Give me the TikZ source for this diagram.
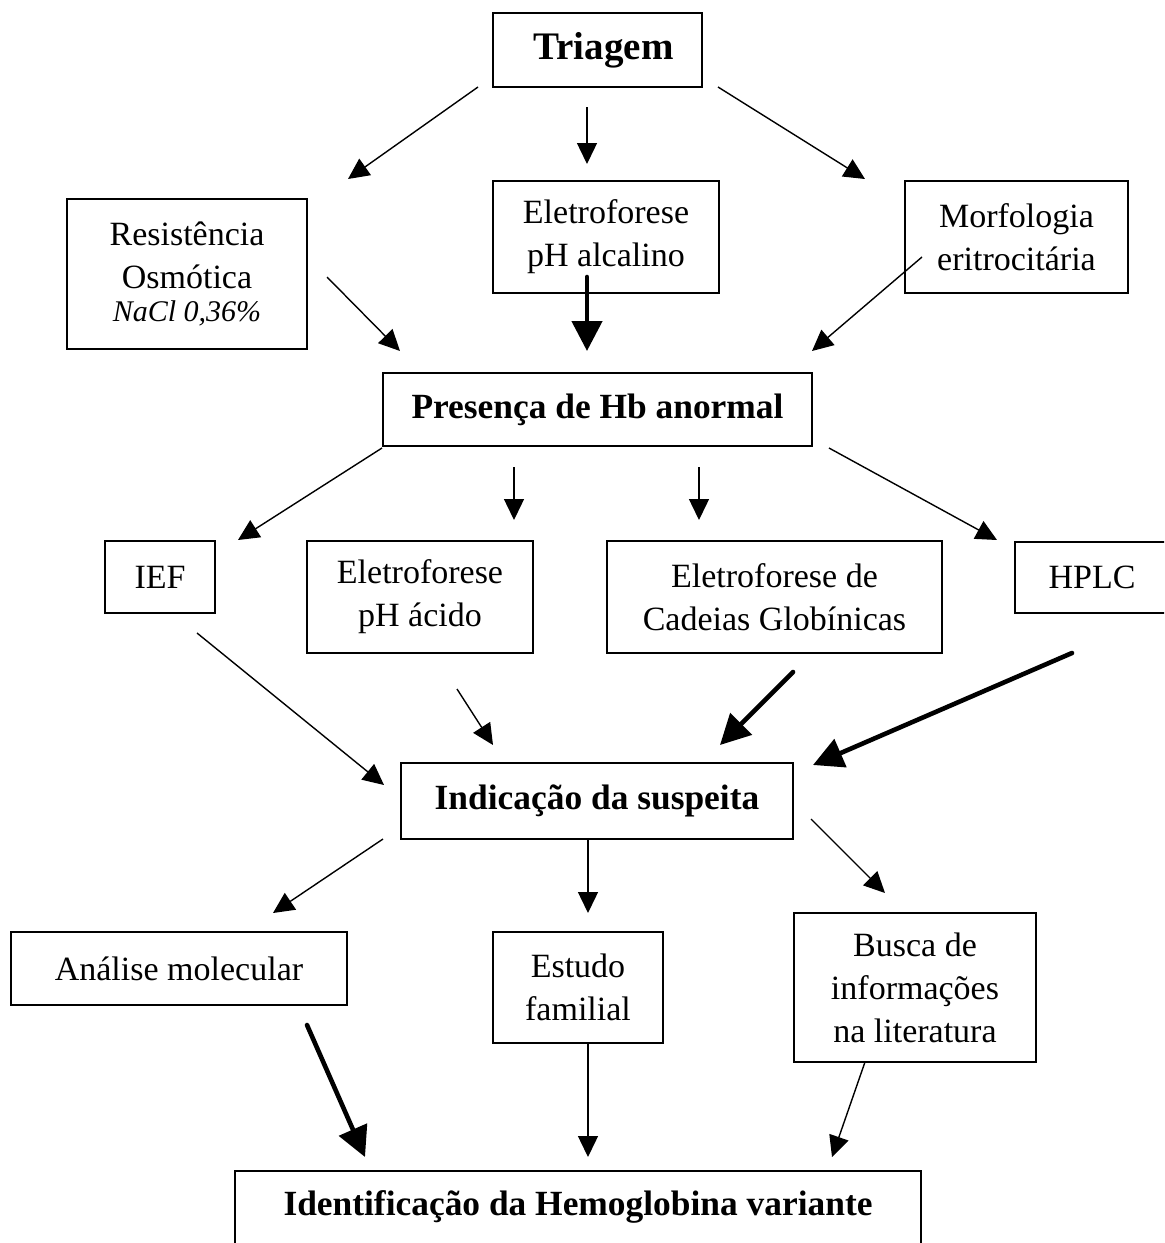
\documentclass[tikz,border=0pt]{standalone}
\usepackage{fontspec}
\setmainfont{Liberation Serif}
\usetikzlibrary{arrows.meta}
\begin{document}
\begin{tikzpicture}[x=0.5pt,y=-0.5pt,
  box/.style={draw, line width=1pt, rectangle, align=center, inner sep=0pt, font=\fontsize{17}{21.5}\selectfont},
  bbox/.style={box, font=\fontsize{17.7}{21.5}\selectfont\bfseries},
  arr/.style={line width=0.7pt, -{Triangle[length=10.5pt,width=10pt]}},
  arrthick/.style={line width=2.3pt, line cap=round, -{Triangle[length=15pt,width=15pt]}}]
\useasboundingbox (0,0) rectangle (1164,1243);
\clip (0,0) rectangle (1164,1243);
\fill[white] (0,0) rectangle (1164,1243);

% boxes
\node[bbox, font=\fontsize{19.5}{23}\selectfont\bfseries, minimum width=104.5pt, minimum height=37pt] (tri) at (597.5,50) {\hspace*{6pt}Triagem};
\node[box, minimum width=120pt, minimum height=75pt] (res) at (187,274) {Resistência\\Osmótica\\[-5pt]{\fontsize{15}{18}\selectfont\itshape NaCl 0,36\%}};
\node[box, minimum width=113pt, minimum height=56pt] (alc) at (606,237) {Eletroforese\\pH alcalino};
\node[box, minimum width=111.5pt, minimum height=56pt] (mor) at (1016.5,237) {Morfologia\\eritrocitária};
\node[bbox, minimum width=214.5pt, minimum height=36.5pt] (pre) at (597.5,409.5) {Presença de Hb anormal};
\node[box, minimum width=55pt, minimum height=36pt] (ief) at (160,577) {IEF};
\node[box, minimum width=113pt, minimum height=56pt] (aci) at (420,597) {Eletroforese\\pH ácido};
\node[box, minimum width=167.5pt, minimum height=56pt] (cad) at (774.5,597) {Eletroforese de\\Cadeias Globínicas};
\node[box, minimum width=77pt, minimum height=35.5pt] (hplc) at (1092,577.5) {HPLC};
\node[bbox, minimum width=196pt, minimum height=38pt] (ind) at (597,801) {Indicação da suspeita};
\node[box, minimum width=168pt, minimum height=36.5pt] (ana) at (179,968.5) {Análise molecular};
\node[box, minimum width=85pt, minimum height=55.5pt] (est) at (578,987.5) {Estudo\\familial};
\node[box, minimum width=121pt, minimum height=74.5pt] (bus) at (915,987.5) {Busca de\\informações\\na literatura};
\draw[line width=1pt] (235,1171) rectangle (921,1300);
\node[font=\fontsize{17.7}{21.5}\selectfont\bfseries, inner sep=0pt] (ide) at (578,1207) {Identificação da Hemoglobina variante};

% arrow end points
\coordinate (a1s) at (478,87);   \coordinate (a1e) at (348,179);
\coordinate (a2s) at (587,107);  \coordinate (a2e) at (587,164);
\coordinate (a3s) at (718,87);   \coordinate (a3e) at (865,179);
\coordinate (a4s) at (327,277);  \coordinate (a4e) at (400,351);
\coordinate (a5s) at (587,277);  \coordinate (a5e) at (587,351);
\coordinate (a6s) at (922,257);  \coordinate (a6e) at (812,351);
\coordinate (a7s) at (382,448);  \coordinate (a7e) at (238,540);
\coordinate (a8s) at (514,467);  \coordinate (a8e) at (514,520);
\coordinate (a9s) at (699,467);  \coordinate (a9e) at (699,520);
\coordinate (a10s) at (829,448); \coordinate (a10e) at (997,540);
\coordinate (a11s) at (197,633); \coordinate (a11e) at (384,785);
\coordinate (a12s) at (457,689); \coordinate (a12e) at (493,745);
\coordinate (a13s) at (793,672); \coordinate (a13e) at (720,745);
\coordinate (a14s) at (1072,653);\coordinate (a14e) at (813,765);
\coordinate (a15s) at (383,839); \coordinate (a15e) at (273,913);
\coordinate (a16s) at (588,839); \coordinate (a16e) at (588,913);
\coordinate (a17s) at (811,819); \coordinate (a17e) at (885,893);
\coordinate (a18s) at (307,1025);\coordinate (a18e) at (365,1157);
\coordinate (a19s) at (588,1043);\coordinate (a19e) at (588,1157);
\coordinate (a20s) at (865,1062);\coordinate (a20e) at (832,1157);

% connectors
\draw[arr] (a1s) -- (a1e);
\draw[arr] (a2s) -- (a2e);
\draw[arr] (a3s) -- (a3e);
\draw[arr] (a4s) -- (a4e);
\draw[arrthick] (a5s) -- (a5e);
\draw[arr] (a6s) -- (a6e);
\draw[arr] (a7s) -- (a7e);
\draw[arr] (a8s) -- (a8e);
\draw[arr] (a9s) -- (a9e);
\draw[arr] (a10s) -- (a10e);
\draw[arr] (a11s) -- (a11e);
\draw[arr] (a12s) -- (a12e);
\draw[arrthick] (a13s) -- (a13e);
\draw[arrthick] (a14s) -- (a14e);
\draw[arr] (a15s) -- (a15e);
\draw[arr] (a16s) -- (a16e);
\draw[arr] (a17s) -- (a17e);
\draw[arrthick] (a18s) -- (a18e);
\draw[arr] (a19s) -- (a19e);
\draw[arr] (a20s) -- (a20e);
\end{tikzpicture}
\end{document}
